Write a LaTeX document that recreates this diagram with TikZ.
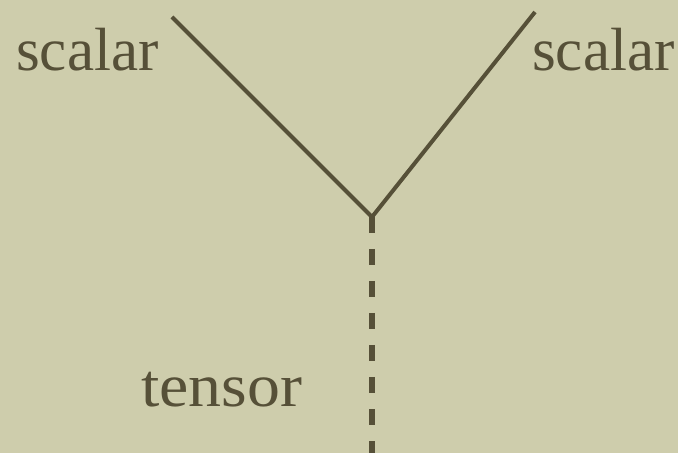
\documentclass[tikz,border=0pt]{standalone}
\usepackage{fontspec}
\setmainfont{Liberation Serif}
\definecolor{bgcol}{RGB}{206,205,172}
\definecolor{inkcol}{RGB}{86,80,56}
\begin{document}
\begin{tikzpicture}[x=1pt,y=1pt,
  label text/.style={text=inkcol, font=\fontsize{61}{70}\selectfont, inner sep=0pt, anchor=base west},
  solidline/.style={draw=inkcol, line width=4pt},
  dashline/.style={draw=inkcol, line width=5.5pt, dash pattern=on 16pt off 16pt}]
  \fill[bgcol] (0,0) rectangle (678,453);
  \useasboundingbox (0,0) rectangle (678,453);
  \coordinate (v) at (372,236);
  \coordinate (lt) at (172,436);
  \coordinate (rt) at (535,441);
  \coordinate (bt) at (372,0);
  \draw[solidline] (lt) -- (v);
  \draw[solidline] (rt) -- (v);
  \draw[dashline] (v) -- (bt);
  \node[label text] (s1) at (16,382) {scalar};
  \node[label text] (s2) at (532,382) {scalar};
  \node[label text, xscale=1.08] (t) at (141,46) {tensor};
\end{tikzpicture}
\end{document}
